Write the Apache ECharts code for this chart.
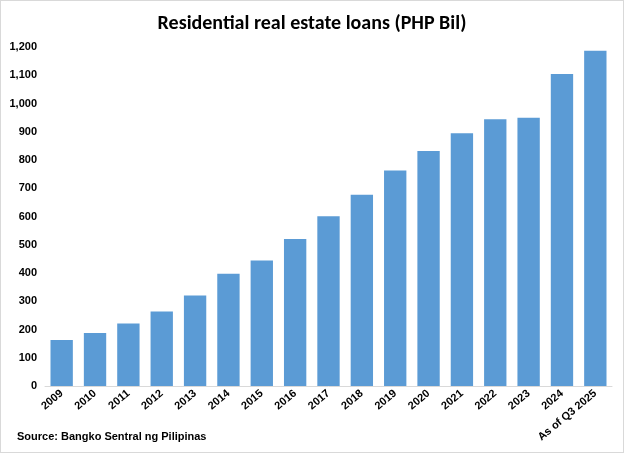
<!DOCTYPE html><html><head><meta charset="utf-8"><script src="https://cdn.jsdelivr.net/npm/echarts@6/dist/echarts.min.js"></script>
<style>html,body{margin:0;padding:0;background:#fff}#c{width:622px;height:451px;border:1px solid #d9d9d9}</style></head><body><div id="c"></div><script>
const categories=['2009','2010','2011','2012','2013','2014','2015','2016','2017','2018','2019','2020','2021','2022','2023','2024','As of Q3 2025'];
const values=[163,188,221,264,320,397,444,520,601,677,763,832,895,944,950,1104,1187];
const yTicks={min:0,max:1200,interval:100};
const ch=echarts.init(document.getElementById('c'));
ch.setOption({animation:false,
title:{text:'Residential real estate loans (PHP Bil)',left:'center',top:8,textStyle:{fontFamily:'Calibri, Carlito, Lato, sans-serif',fontSize:20,fontWeight:600,color:'#000'}},
graphic:[{type:'text',left:16,top:430,style:{text:'Source: Bangko Sentral ng Pilipinas',font:'bold 11px "Liberation Sans", sans-serif',fill:'#000'}}],
grid:{left:44,right:11,top:46,bottom:66},
xAxis:{type:'category',data:categories,axisTick:{show:false},axisLine:{lineStyle:{color:'#d9d9d9'}},
axisLabel:{interval:0,rotate:40,color:'#000',fontWeight:'bold',fontSize:11,fontFamily:'"Liberation Sans", sans-serif',margin:6}},
yAxis:{type:'value',min:yTicks.min,max:yTicks.max,interval:yTicks.interval,axisLine:{show:false},axisTick:{show:false},splitLine:{show:false},
axisLabel:{color:'#000',fontWeight:'bold',fontSize:11,fontFamily:'"Liberation Sans", sans-serif',formatter:v=>v.toLocaleString('en-US')}},
series:[{type:'bar',data:values,barCategoryGap:'33%',itemStyle:{color:'#5b9bd5'}}]});
</script></body></html>
